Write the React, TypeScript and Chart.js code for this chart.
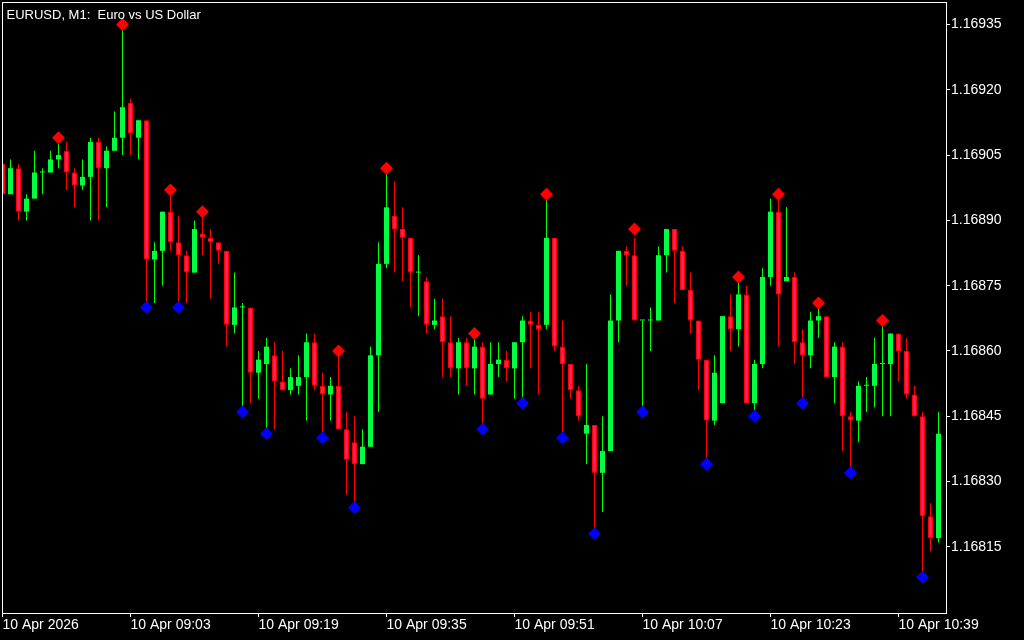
import React, { useEffect, useRef } from 'react';
import { Chart, registerables } from 'chart.js';

Chart.register(...registerables);

const chartTitle = 'EURUSD, M1:  Euro vs US Dollar';

const openP = [
  1.16903, 1.16896, 1.16902, 1.16892, 1.16895, 1.16901, 1.16901, 1.16904, 1.16906, 1.16901,
  1.16898, 1.16900, 1.16908, 1.16902, 1.16906, 1.16909, 1.16917, 1.16909, 1.16913, 1.16881,
  1.16883, 1.16892, 1.16885, 1.16882, 1.16878, 1.16887, 1.16886, 1.16885, 1.16883, 1.16866,
  1.16870, 1.16870, 1.16855, 1.16857, 1.16859, 1.16853, 1.16851, 1.16852, 1.16854, 1.16862,
  1.16852, 1.16850, 1.16852, 1.16842, 1.16839, 1.16834, 1.16838, 1.16859, 1.16880, 1.16891,
  1.16888, 1.16886, 1.16878, 1.16876, 1.16866, 1.16868, 1.16862, 1.16856, 1.16862, 1.16856,
  1.16861, 1.16850, 1.16857, 1.16858, 1.16856, 1.16862, 1.16867, 1.16866, 1.16866, 1.16886,
  1.16861, 1.16857, 1.16851, 1.16841, 1.16843, 1.16832, 1.16837, 1.16867, 1.16883, 1.16882,
  1.16867, 1.16867, 1.16867, 1.16882, 1.16888, 1.16883, 1.16874, 1.16867, 1.16858, 1.16844,
  1.16848, 1.16868, 1.16865, 1.16873, 1.16848, 1.16857, 1.16877, 1.16892, 1.16876, 1.16877,
  1.16862, 1.16859, 1.16867, 1.16868, 1.16854, 1.16861, 1.16845, 1.16844, 1.16852, 1.16852,
  1.16857, 1.16857, 1.16864, 1.16860, 1.16850, 1.16845, 1.16822, 1.16817,
];

const highP = [
  1.16904, 1.16904, 1.16903, 1.16896, 1.16906, 1.16902, 1.16906, 1.16908, 1.16908, 1.16902,
  1.16904, 1.16909, 1.16909, 1.16907, 1.16915, 1.16934, 1.16918, 1.16913, 1.16913, 1.16885,
  1.16892, 1.16896, 1.16891, 1.16883, 1.16890, 1.16891, 1.16888, 1.16885, 1.16883, 1.16878,
  1.16871, 1.16870, 1.16860, 1.16863, 1.16862, 1.16860, 1.16856, 1.16859, 1.16864, 1.16864,
  1.16855, 1.16854, 1.16859, 1.16846, 1.16845, 1.16842, 1.16861, 1.16885, 1.16901, 1.16899,
  1.16893, 1.16886, 1.16882, 1.16877, 1.16872, 1.16872, 1.16868, 1.16863, 1.16863, 1.16863,
  1.16862, 1.16862, 1.16862, 1.16860, 1.16862, 1.16868, 1.16869, 1.16869, 1.16895, 1.16886,
  1.16867, 1.16857, 1.16852, 1.16857, 1.16843, 1.16845, 1.16873, 1.16883, 1.16884, 1.16886,
  1.16867, 1.16870, 1.16884, 1.16888, 1.16888, 1.16884, 1.16878, 1.16867, 1.16858, 1.16859,
  1.16868, 1.16873, 1.16876, 1.16875, 1.16858, 1.16879, 1.16895, 1.16895, 1.16893, 1.16878,
  1.16865, 1.16869, 1.16870, 1.16868, 1.16862, 1.16862, 1.16846, 1.16853, 1.16854, 1.16863,
  1.16866, 1.16864, 1.16864, 1.16863, 1.16852, 1.16846, 1.16825, 1.16846,
];

const lowP = [
  1.16896, 1.16896, 1.16890, 1.16890, 1.16895, 1.16896, 1.16901, 1.16902, 1.16897, 1.16893,
  1.16897, 1.16890, 1.16890, 1.16893, 1.16906, 1.16905, 1.16905, 1.16904, 1.16871, 1.16871,
  1.16875, 1.16883, 1.16871, 1.16871, 1.16878, 1.16882, 1.16872, 1.16880, 1.16861, 1.16864,
  1.16847, 1.16848, 1.16849, 1.16842, 1.16842, 1.16851, 1.16850, 1.16850, 1.16844, 1.16851,
  1.16841, 1.16844, 1.16842, 1.16827, 1.16825, 1.16834, 1.16838, 1.16846, 1.16879, 1.16878,
  1.16876, 1.16870, 1.16868, 1.16864, 1.16865, 1.16854, 1.16854, 1.16850, 1.16852, 1.16850,
  1.16843, 1.16850, 1.16854, 1.16853, 1.16849, 1.16849, 1.16856, 1.16850, 1.16865, 1.16860,
  1.16841, 1.16849, 1.16844, 1.16834, 1.16819, 1.16823, 1.16837, 1.16862, 1.16875, 1.16867,
  1.16847, 1.16860, 1.16867, 1.16878, 1.16871, 1.16874, 1.16864, 1.16851, 1.16835, 1.16843,
  1.16848, 1.16860, 1.16861, 1.16848, 1.16846, 1.16856, 1.16875, 1.16861, 1.16876, 1.16857,
  1.16849, 1.16856, 1.16863, 1.16854, 1.16848, 1.16837, 1.16833, 1.16839, 1.16846, 1.16847,
  1.16845, 1.16845, 1.16853, 1.16849, 1.16845, 1.16809, 1.16814, 1.16816,
];

const closeP = [
  1.16896, 1.16902, 1.16892, 1.16895, 1.16901, 1.16901, 1.16904, 1.16905, 1.16901, 1.16898,
  1.16900, 1.16908, 1.16902, 1.16906, 1.16909, 1.16916, 1.16910, 1.16913, 1.16881, 1.16883,
  1.16892, 1.16885, 1.16882, 1.16878, 1.16888, 1.16886, 1.16885, 1.16883, 1.16866, 1.16870,
  1.16870, 1.16855, 1.16858, 1.16861, 1.16853, 1.16851, 1.16854, 1.16854, 1.16862, 1.16852,
  1.16850, 1.16852, 1.16842, 1.16835, 1.16834, 1.16838, 1.16859, 1.16880, 1.16893, 1.16888,
  1.16886, 1.16878, 1.16878, 1.16866, 1.16867, 1.16862, 1.16856, 1.16862, 1.16856, 1.16861,
  1.16849, 1.16857, 1.16858, 1.16856, 1.16862, 1.16867, 1.16866, 1.16865, 1.16886, 1.16861,
  1.16857, 1.16851, 1.16845, 1.16843, 1.16832, 1.16837, 1.16867, 1.16883, 1.16882, 1.16867,
  1.16867, 1.16867, 1.16882, 1.16888, 1.16883, 1.16874, 1.16867, 1.16858, 1.16844, 1.16855,
  1.16868, 1.16865, 1.16873, 1.16848, 1.16857, 1.16877, 1.16892, 1.16873, 1.16877, 1.16862,
  1.16859, 1.16867, 1.16868, 1.16854, 1.16861, 1.16845, 1.16844, 1.16852, 1.16852, 1.16857,
  1.16857, 1.16864, 1.16860, 1.16850, 1.16845, 1.16822, 1.16817, 1.16841,
];

const upFractalIdx = [7, 15, 21, 25, 42, 48, 59, 68, 79, 92, 97, 102, 110];
const upFractalVal = [
  1.16909, 1.16935, 1.16897, 1.16892, 1.16860, 1.16902, 1.16864, 1.16896, 1.16888, 1.16877,
  1.16896, 1.16871, 1.16867,
];
const downFractalIdx = [18, 22, 30, 33, 40, 44, 60, 65, 70, 74, 80, 88, 94, 100, 106, 115];
const downFractalVal = [
  1.16870, 1.16870, 1.16846, 1.16841, 1.16840, 1.16824, 1.16842, 1.16848, 1.16840, 1.16818,
  1.16846, 1.16834, 1.16845, 1.16848, 1.16832, 1.16808,
];

const xTickIdx = [0, 16, 32, 48, 64, 80, 96, 112];
const xTickLabels = [
  '10 Apr 2026', '10 Apr 09:03', '10 Apr 09:19', '10 Apr 09:35',
  '10 Apr 09:51', '10 Apr 10:07', '10 Apr 10:23', '10 Apr 10:39',
];
const yTickValues = [1.16815, 1.1683, 1.16845, 1.1686, 1.16875, 1.1689, 1.16905, 1.1692, 1.16935];

const BULL = '#00ff40';
const BULL_WICK = '#00ff00';
const BEAR_FILL = '#ff1a66';
const BEAR_EDGE = '#ff0000';
const UP_MARK = '#ff0000';
const DOWN_MARK = '#0000ff';
const FG = '#ffffff';
const FONT = 'Liberation Sans';

const zeroPadding = (scale: any) => {
  scale.paddingLeft = 0;
  scale.paddingRight = 0;
  scale.paddingTop = 0;
  scale.paddingBottom = 0;
};

const framePlugin = {
  id: 'mtFrame',
  afterDraw(chart: any) {
    const { ctx, chartArea } = chart;
    ctx.save();
    ctx.strokeStyle = FG;
    ctx.lineWidth = 1;
    ctx.strokeRect(
      chartArea.left + 0.5,
      chartArea.top + 0.5,
      chartArea.right - chartArea.left,
      chartArea.bottom - chartArea.top
    );
    ctx.fillStyle = FG;
    ctx.font = `13px "${FONT}"`;
    ctx.textBaseline = 'alphabetic';
    ctx.textAlign = 'left';
    ctx.fillText(chartTitle, chartArea.left + 4.5, chartArea.top + 16.7);
    ctx.restore();
  },
};

export default function App() {
  const canvasRef = useRef<HTMLCanvasElement | null>(null);

  useEffect(() => {
    const canvas = canvasRef.current;
    if (!canvas) return;
    const isBull = (i: number) => closeP[i] >= openP[i];

    const chart = new Chart(canvas, {
      type: 'bar',
      data: {
        datasets: [
          {
            type: 'scatter',
            label: 'up',
            data: upFractalIdx.map((x, j) => ({ x, y: upFractalVal[j] })),
            pointStyle: 'rectRot',
            pointRadius: 6.5,
            pointHoverRadius: 6.5,
            backgroundColor: UP_MARK,
            borderColor: UP_MARK,
            borderWidth: 0,
            clip: false,
            order: 0,
          } as any,
          {
            type: 'scatter',
            label: 'down',
            data: downFractalIdx.map((x, j) => ({ x, y: downFractalVal[j] })),
            pointStyle: 'rectRot',
            pointRadius: 6.5,
            pointHoverRadius: 6.5,
            backgroundColor: DOWN_MARK,
            borderColor: DOWN_MARK,
            borderWidth: 0,
            clip: false,
            order: 0,
          } as any,
          {
            type: 'bar',
            label: 'body',
            data: openP.map((o, i) => ({ x: i, y: [o, closeP[i]] })),
            backgroundColor: openP.map((_, i) => (isBull(i) ? BULL : BEAR_FILL)),
            borderColor: openP.map((_, i) => (isBull(i) ? BULL : BEAR_EDGE)),
            borderWidth: openP.map((_, i) => (isBull(i) ? 0 : 1)),
            borderSkipped: false,
            grouped: false,
            barPercentage: 1,
            categoryPercentage: 1,
            maxBarThickness: 5,
            minBarLength: 1,
            inflateAmount: 0,
            order: 1,
          } as any,
          {
            type: 'bar',
            label: 'wick',
            data: lowP.map((l, i) => ({ x: i, y: [l, highP[i]] })),
            backgroundColor: openP.map((_, i) => (isBull(i) ? BULL_WICK : BEAR_EDGE)),
            borderWidth: 0,
            grouped: false,
            barPercentage: 1,
            categoryPercentage: 1,
            maxBarThickness: 1,
            minBarLength: 1,
            inflateAmount: 0,
            order: 2,
          } as any,
        ],
      },
      options: {
        animation: false,
        responsive: false,
        maintainAspectRatio: false,
        events: [],
        layout: { autoPadding: false, padding: { top: 2, left: 2, right: 0, bottom: 0 } },
        plugins: {
          legend: { display: false },
          tooltip: { enabled: false },
          title: { display: false },
        },
        scales: {
          x: {
            type: 'linear',
            position: 'bottom',
            min: -0.0625,
            max: 117.9375,
            offset: false,
            grid: {
              display: true,
              drawOnChartArea: false,
              drawTicks: true,
              tickLength: 4,
              color: FG,
              offset: false,
            },
            border: { display: false },
            afterBuildTicks: (scale: any) => {
              scale.ticks = xTickIdx.map((v) => ({ value: v }));
            },
            afterFit: (scale: any) => {
              scale.height = 27;
              zeroPadding(scale);
            },
            ticks: {
              autoSkip: false,
              maxRotation: 0,
              minRotation: 0,
              align: 'start',
              padding: 0,
              color: FG,
              font: { family: FONT, size: 14 },
              callback: (_v: any, index: number) => xTickLabels[index],
            },
          } as any,
          y: {
            type: 'linear',
            position: 'right',
            min: 1.167998,
            max: 1.1694017,
            grid: {
              display: true,
              drawOnChartArea: false,
              drawTicks: true,
              tickLength: 4,
              color: FG,
            },
            border: { display: false },
            afterBuildTicks: (scale: any) => {
              scale.ticks = yTickValues.map((v) => ({ value: v }));
            },
            afterFit: (scale: any) => {
              scale.width = 78;
              zeroPadding(scale);
            },
            ticks: {
              autoSkip: false,
              padding: 1,
              color: FG,
              font: { family: FONT, size: 14 },
              callback: (v: any) => Number(v).toFixed(5),
            },
          } as any,
        },
      },
      plugins: [framePlugin],
    });

    return () => {
      chart.destroy();
    };
  }, []);

  return (
    <div
      style={{
        position: 'absolute',
        left: 0,
        top: 0,
        width: 1024,
        height: 640,
        background: '#000000',
      }}
    >
      <canvas ref={canvasRef} width={1024} height={640} style={{ display: 'block' }} />
    </div>
  );
}
